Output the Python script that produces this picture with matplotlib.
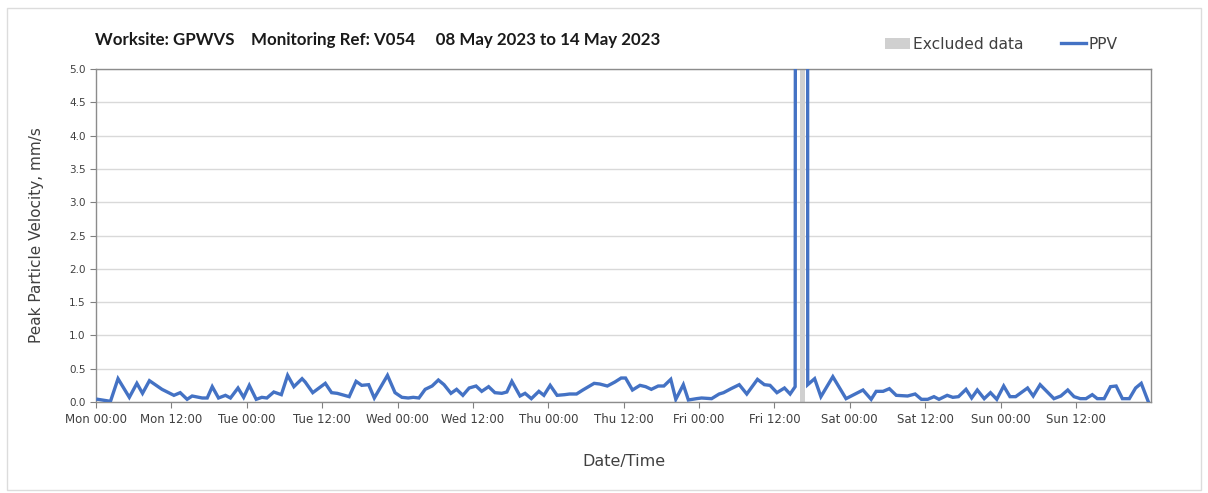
import numpy as np
import matplotlib
matplotlib.use("Agg")
import matplotlib.pyplot as plt
import matplotlib.dates as mdates
from matplotlib.patches import Patch, Rectangle
from matplotlib.lines import Line2D
from datetime import datetime, timedelta

# --- data (hours after Mon 08 May 2023 00:00) ---
hours = [0.3, 2.3, 3.5, 5.3, 6.5, 7.4, 8.5, 10.5, 12.4, 13.4, 14.5, 15.3, 16.9, 17.7,
         18.5, 19.5, 20.6, 21.4, 22.6, 23.5, 24.4, 25.5, 26.4, 27.2, 28.3, 29.5, 30.5,
         31.5, 32.8, 33.3, 34.5, 36.5, 37.5, 38.4, 40.3, 41.4, 42.3, 43.4, 44.3, 46.4,
         47.6, 48.7, 49.7, 50.5, 51.4, 52.4, 53.5, 54.5, 55.4, 56.5, 57.4, 58.4, 59.4,
         60.5, 61.4, 62.5, 63.5, 64.6, 65.4, 66.2, 67.5, 68.3, 69.3, 70.5, 71.3, 72.3,
         73.4, 74.6, 75.4, 76.5, 77.5, 79.3, 80.2, 81.4, 82.6, 83.6, 84.3, 85.4, 86.6,
         87.5, 88.4, 89.5, 90.4, 91.5, 92.3, 93.5, 94.3, 95.6, 96.4, 98.0, 99.2, 99.9,
         101.1, 102.4, 103.6, 105.3, 106.4, 107.3, 108.4, 109.6, 110.5, 111.3, 111.8,
         112.4, 113.1, 113.3, 114.4, 115.4, 117.3, 119.4, 122.1, 123.4, 124.2, 125.3,
         126.3, 127.4, 129.2, 130.4, 131.4, 132.4, 133.4, 134.2, 135.5, 136.4, 137.3,
         138.5, 139.4, 140.3, 141.4, 142.4, 143.4, 144.5, 145.5, 146.4, 148.3, 149.2,
         150.3, 152.5, 153.6, 154.7, 155.7, 156.7, 157.6, 158.6, 159.4, 160.5, 161.5,
         162.4, 163.4, 164.5, 165.5, 166.4, 167.5]
ppv = [0.04, 0.01, 0.35, 0.07, 0.28, 0.13, 0.32, 0.19, 0.10, 0.14, 0.04, 0.09, 0.06, 0.06,
       0.23, 0.06, 0.10, 0.06, 0.21, 0.07, 0.25, 0.04, 0.07, 0.06, 0.15, 0.11, 0.40,
       0.23, 0.35, 0.30, 0.14, 0.28, 0.14, 0.13, 0.08, 0.31, 0.25, 0.26, 0.06, 0.40,
       0.14, 0.07, 0.06, 0.07, 0.06, 0.19, 0.24, 0.33, 0.26, 0.13, 0.19, 0.10, 0.21,
       0.24, 0.16, 0.23, 0.14, 0.13, 0.15, 0.31, 0.09, 0.13, 0.05, 0.16, 0.10, 0.25,
       0.10, 0.11, 0.12, 0.12, 0.18, 0.28, 0.27, 0.24, 0.30, 0.36, 0.36, 0.18, 0.25,
       0.23, 0.19, 0.24, 0.24, 0.34, 0.04, 0.26, 0.03, 0.05, 0.06, 0.05, 0.12, 0.14,
       0.20, 0.26, 0.12, 0.34, 0.26, 0.25, 0.14, 0.21, 0.12, 0.23, 80.0,
       np.nan, 80.0, 0.26, 0.35, 0.08, 0.38, 0.05, 0.18, 0.04, 0.16, 0.16,
       0.20, 0.10, 0.09, 0.12, 0.04, 0.04, 0.08, 0.04, 0.10, 0.07, 0.08,
       0.19, 0.06, 0.18, 0.05, 0.14, 0.04, 0.24, 0.08, 0.08, 0.21, 0.09,
       0.26, 0.05, 0.09, 0.18, 0.08, 0.05, 0.05, 0.11, 0.05, 0.05, 0.23,
       0.24, 0.05, 0.05, 0.21, 0.28, 0.01]
excluded = (112.0, 112.9)
y_ticks = [0.0, 0.5, 1.0, 1.5, 2.0, 2.5, 3.0, 3.5, 4.0, 4.5, 5.0]

start = datetime(2023, 5, 8)
t = [start + timedelta(hours=h) for h in hours]

blue = "#4472C4"
grey_txt = "#404040"

fig = plt.figure(figsize=(12.08, 4.93), dpi=100)
ax = fig.add_axes([0.0795, 0.1846, 0.8733, 0.6754])

ax.axvspan(start + timedelta(hours=excluded[0]), start + timedelta(hours=excluded[1]),
           color="#d0d0d0", lw=0, zorder=1)
ax.plot(t, ppv, color=blue, lw=2.4, zorder=3, solid_joinstyle="miter")

ax.set_xlim(start, start + timedelta(hours=167.95))
ax.set_ylim(0, 5.0)
ax.set_yticks(y_ticks)
ax.set_yticklabels([f"{v:.1f}" for v in y_ticks])

ax.xaxis.set_major_locator(mdates.HourLocator(byhour=[0, 12]))
ax.xaxis.set_major_formatter(mdates.DateFormatter("%a %H:%M"))
ax.xaxis.set_minor_locator(mdates.DayLocator())
ax.grid(which="minor", axis="x", color="#d9d9d9", lw=1)
ax.grid(which="major", axis="y", color="#d9d9d9", lw=1)
ax.set_axisbelow(True)

ax.tick_params(axis="x", which="major", length=4, color="#808080", labelsize=8.5,
               labelcolor=grey_txt, pad=4)
ax.tick_params(axis="x", which="minor", length=0)
ax.tick_params(axis="y", length=4, color="#808080", labelsize=7.5, labelcolor=grey_txt)
for s in ax.spines.values():
    s.set_color("#8c8c8c")
    s.set_linewidth(1)

ax.set_ylabel("Peak Particle Velocity, mm/s", fontsize=11, color=grey_txt, labelpad=18)
ax.set_xlabel("Date/Time", fontsize=11.5, color=grey_txt, labelpad=20)

fig.text(0.079, 0.918, "Worksite: GPWVS    Monitoring Ref: V054     08 May 2023 to 14 May 2023",
         fontsize=12.2, fontweight="bold", family="Lato", color="#1a1a1a", va="center")

handles = [Patch(facecolor="#d0d0d0", edgecolor="none", label="Excluded data"),
           Line2D([0], [0], color=blue, lw=2.4, label="PPV")]
fig.legend(handles=handles, loc="center right", bbox_to_anchor=(0.937, 0.91), ncol=2,
           frameon=False, fontsize=11.2, handlelength=1.6, handleheight=0.8,
           handletextpad=0.2, columnspacing=2.4, labelcolor=grey_txt)

# light outer frame
fig.add_artist(Rectangle((0.006, 0.006), 0.988, 0.978, transform=fig.transFigure,
                         fill=False, edgecolor="#dcdcdc", lw=1))

fig.savefig("out.png", dpi=100)
